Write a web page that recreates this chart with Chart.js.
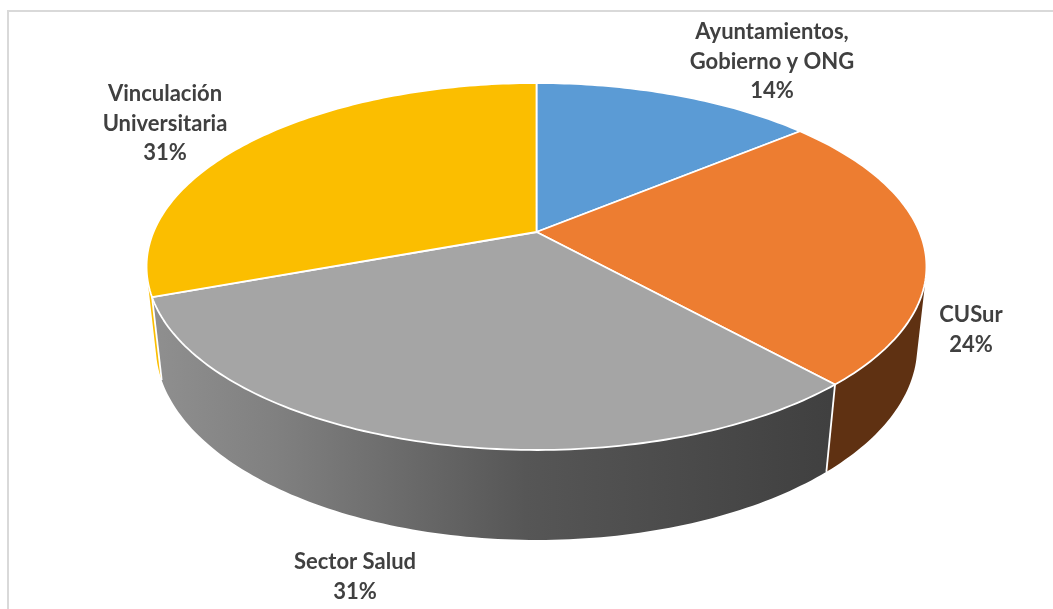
<!DOCTYPE html>
<html>
<head>
<meta charset="utf-8">
<title>Pastel 3D</title>
<script src="https://cdn.jsdelivr.net/npm/chart.js@4"></script>
<style>
	html, body { margin: 0; padding: 0; background: #fff; overflow: hidden; }
	#frame { position: absolute; left: 7px; top: 10px; width: 1100px; height: 700px; border: 2px solid #d9d9d9; }
	#wrap { position: absolute; left: 0; top: 0; width: 1053px; height: 609px; }
</style>
</head>
<body>
<div id="frame"></div>
<div id="wrap"><canvas id="pie"></canvas></div>
<script>
// values
const categories = [
	['Ayuntamientos,', 'Gobierno y ONG'],
	['CUSur'],
	['Sector Salud'],
	['Vinculación', 'Universitaria']
];
const shares = [14, 24.3, 31.1, 30.6];
const faceColors = ['#5b9bd5', '#ed7d31', '#a5a5a5', '#fbbe00'];

// where each label block is centred: x, y of the first line
const labelSpots = [[772, 32], [971, 315], [355, 562], [165, 94]];
const labelLineHeight = 29.5;

// the disc seen in perspective: top face and bottom face
const topDisc = { cx: 536.5, cy: 232, rx: 383, ry: 177, p: 0.188 };
const lowDisc = { cx: 536.5, cy: 311.3, rx: 374.5, ry: 187.5, p: 0.18 };

function project( disc, a ) {
	const w = 1 - disc.p * Math.sin( a );
	return [disc.cx + disc.rx * Math.cos( a ) / w, disc.cy + disc.ry * Math.sin( a ) / w];
}

// list of angles from start to end, about one per degree
function sweep( start, end ) {
	const steps = Math.max( 2, Math.ceil( ( end - start ) * 180 / Math.PI ) );
	const out = [];
	for ( let i = 0; i <= steps; i++ )
		out.push( start + ( end - start ) * i / steps );
	return out;
}

function sideFill( ctx, index ) {
	if ( index === 1 )
		return '#5f3112';
	if ( index === 2 ) {
		const g = ctx.createLinearGradient( 155, 0, 830, 0 );
		g.addColorStop( 0, '#8f8f8f' );
		g.addColorStop( 0.18, '#808080' );
		g.addColorStop( 0.55, '#565656' );
		g.addColorStop( 1, '#404040' );
		return g;
	}
	return index === 3 ? '#fbbe00' : '#3a5f82';
}

// adds a quad to the current path, always with the same winding
function addQuad( ctx, quad ) {
	let area = 0;
	quad.forEach( function ( pt, i ) {
		const next = quad[( i + 1 ) % 4];
		area += pt[0] * next[1] - next[0] * pt[1];
	} );
	const pts = area < 0 ? quad.slice().reverse() : quad;
	ctx.moveTo( ...pts[0] );
	pts.slice( 1 ).forEach( ( pt ) => ctx.lineTo( ...pt ) );
	ctx.closePath();
}

const perspectivePie = {
	id: 'perspectivePie',
	// skips the flat arcs, the slices are drawn from their angles here
	beforeDatasetsDraw( chart ) {
		const ctx = chart.ctx;
		const arcs = chart.getDatasetMeta( 0 ).data;
		const order = arcs.map( ( el, i ) => i ).sort( ( a, b ) =>
			Math.sin( ( arcs[a].startAngle + arcs[a].endAngle ) / 2 ) - Math.sin( ( arcs[b].startAngle + arcs[b].endAngle ) / 2 ) );

		ctx.save();
		ctx.lineJoin = 'round';

		// side walls, back to front, quads in one path so the silhouette stays filled
		order.forEach( function ( i ) {
			const angles = sweep( arcs[i].startAngle, arcs[i].endAngle );
			ctx.beginPath();
			angles.slice( 1 ).forEach( function ( a, k ) {
				addQuad( ctx, [
					project( topDisc, angles[k] ),
					project( topDisc, a ),
					project( lowDisc, a ),
					project( lowDisc, angles[k] )
				] );
			} );
			ctx.fillStyle = sideFill( ctx, i );
			ctx.fill( 'nonzero' );
		} );

		// seams
		ctx.strokeStyle = '#fff';
		ctx.lineWidth = 1.8;
		arcs.forEach( function ( el ) {
			ctx.beginPath();
			ctx.moveTo( ...project( topDisc, el.startAngle ) );
			ctx.lineTo( ...project( lowDisc, el.startAngle ) );
			ctx.stroke();
		} );

		// top faces
		arcs.forEach( function ( el, i ) {
			ctx.beginPath();
			ctx.moveTo( topDisc.cx, topDisc.cy );
			sweep( el.startAngle, el.endAngle ).forEach( ( a ) => ctx.lineTo( ...project( topDisc, a ) ) );
			ctx.closePath();
			ctx.fillStyle = faceColors[i];
			ctx.fill();
			ctx.strokeStyle = '#fff';
			ctx.stroke();
		} );

		ctx.restore();
		return false;
	},
	afterDraw( chart ) {
		const ctx = chart.ctx;
		ctx.save();
		ctx.font = 'bold 22px Lato';
		ctx.fillStyle = '#404040';
		ctx.textAlign = 'center';
		ctx.textBaseline = 'middle';
		categories.forEach( function ( lines, i ) {
			const rows = lines.concat( Math.round( shares[i] ) + '%' );
			rows.forEach( function ( row, r ) {
				ctx.fillText( row, labelSpots[i][0], labelSpots[i][1] + r * labelLineHeight );
			} );
		} );
		ctx.restore();
	}
};

new Chart( document.getElementById( 'pie' ).getContext( '2d' ), {
	type: 'pie',
	data: {
		labels: categories,
		datasets: [{ data: shares, backgroundColor: faceColors, borderColor: '#fff' }]
	},
	options: {
		responsive: true,
		maintainAspectRatio: false,
		animation: false,
		plugins: { legend: { display: false }, tooltip: { enabled: false } }
	},
	plugins: [perspectivePie]
} );
</script>
</body>
</html>
